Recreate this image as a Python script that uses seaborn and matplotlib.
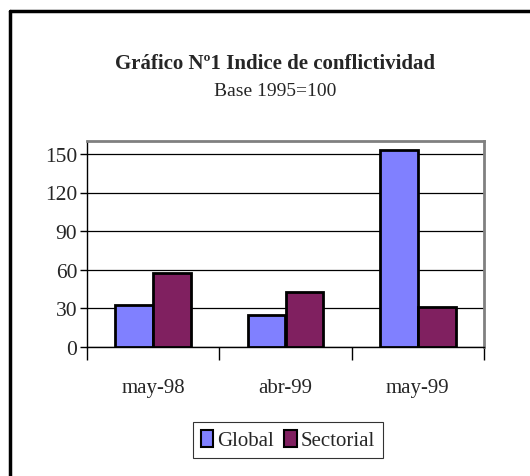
import numpy as np
import pandas as pd
import matplotlib
matplotlib.use('Agg')
import matplotlib.pyplot as plt
import seaborn as sns
from matplotlib.lines import Line2D

# Data
meses = ['may-98', 'abr-99', 'may-99']
global_vals = [33, 24.5, 153]
sectorial_vals = [57.7, 43, 31]
series = ['Global', 'Sectorial']
colores = ['#8080FF', '#802060']
yticks = [0, 30, 60, 90, 120, 150]

df = pd.DataFrame({
    'mes': meses * 2,
    'valor': global_vals + sectorial_vals,
    'serie': [series[0]] * len(meses) + [series[1]] * len(meses),
})

sns.set_style('white')
plt.rcParams['font.family'] = ['Liberation Serif', 'DejaVu Serif']

fig = plt.figure(figsize=(5.30, 4.77), dpi=100)
ax = fig.add_axes([87 / 530, 1 - 348 / 477, (484 - 87) / 530, (348 - 142) / 477])

sns.barplot(data=df, x='mes', y='valor', hue='serie', palette=colores,
            width=0.57, saturation=1, edgecolor='black', linewidth=2,
            ax=ax, zorder=3)

ax.set_ylim(0, 160)
ax.set_xlim(-0.5, 2.5)
ax.set_yticks(yticks)
ax.yaxis.grid(True, color='black', linewidth=0.9, zorder=0)
ax.set_axisbelow(True)
ax.tick_params(axis='y', direction='out', length=5, width=1, color='black',
               labelsize=15.5, pad=2, left=True)

# category labels in the middle, tick marks at the boundaries
ax.set_xticks([-0.5, 0.5, 1.5, 2.5])
ax.set_xticklabels([])
ax.tick_params(axis='x', which='major', direction='out', length=9, width=1,
               color='black', bottom=True)
ax.set_xticks([0, 1, 2], minor=True)
ax.set_xticklabels(meses, minor=True)
ax.tick_params(axis='x', which='minor', length=0, labelsize=15, pad=22)

ax.set_xlabel('')
ax.set_ylabel('')
for side in ['top', 'right', 'left', 'bottom']:
    ax.spines[side].set_visible(True)
    ax.spines[side].set_color('#808080')
    ax.spines[side].set_linewidth(2)
ax.spines['bottom'].set_color('black')
ax.spines['bottom'].set_linewidth(1)
ax.spines['left'].set_color('black')
ax.spines['left'].set_linewidth(1)

# legend below
leg = ax.legend(loc='center', bbox_to_anchor=(288 / 530, 1 - 441 / 477),
                bbox_transform=fig.transFigure, ncol=2, frameon=True,
                prop={'family': ['Liberation Serif'], 'size': 15},
                handlelength=0.6, handleheight=0.9,
                handletextpad=0.2, columnspacing=0.5, borderpad=0.35,
                fancybox=False, edgecolor='black')
leg.get_frame().set_linewidth(0.8)
for h in leg.legend_handles:
    h.set_edgecolor('black')
    h.set_linewidth(1.5)

# titles
fig.text(275 / 530, 1 - 64 / 477, 'Gráfico Nº1 Indice de conflictividad',
         ha='center', va='center', fontsize=15, fontweight='bold')
fig.text(275 / 530, 1 - 92 / 477, 'Base 1995=100',
         ha='center', va='center', fontsize=14)

# outer frame (left and top edges visible)
fig.add_artist(Line2D([10 / 530, 10 / 530], [0, 1 - 12 / 477], color='black',
                      linewidth=2.5, transform=fig.transFigure))
fig.add_artist(Line2D([10 / 530, 1], [1 - 12 / 477, 1 - 12 / 477], color='black',
                      linewidth=2.5, transform=fig.transFigure))

fig.savefig('out.png', dpi=100)
